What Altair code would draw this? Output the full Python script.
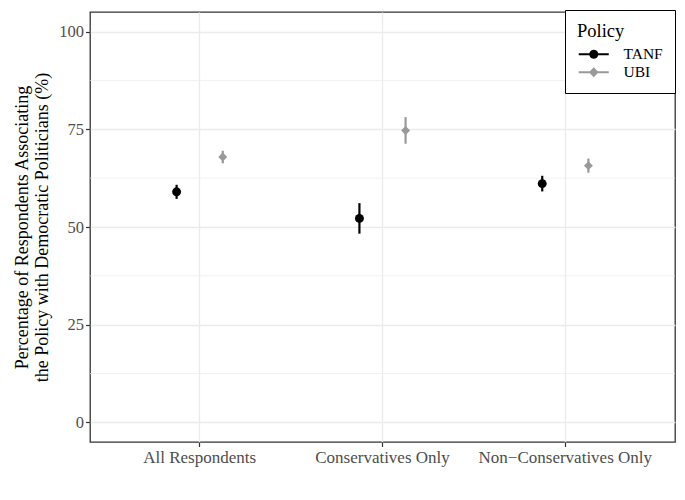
import math
import altair as alt
import pandas as pd

groups = ["All Respondents", "Conservatives Only", "Non\u2212Conservatives Only"]
policies = ["TANF", "UBI"]
tanf_est = [59.0, 52.2, 61.1]
tanf_lo = [57.2, 48.3, 59.1]
tanf_hi = [60.8, 56.1, 63.1]
ubi_est = [67.9, 74.7, 65.7]
ubi_lo = [66.3, 71.3, 63.9]
ubi_hi = [69.5, 78.1, 67.5]
major_ticks = [0, 25, 50, 75, 100]
minor_grid = [12.5, 37.5, 62.5, 87.5]
colors = ["#000000", "#999999"]
point_shapes = ["circle", "diamond"]

# legend glyphs (line + point), polygon-only custom symbol paths
CX = 1.29
BAR = "M-0.86,-0.15L3.43,-0.15L3.43,0.15L-0.86,0.15Z"


def poly(n, r, rot=0.0):
    pts = []
    for k in range(n):
        a = rot + 2 * math.pi * k / n
        pts.append(f"{CX + r * math.cos(a):.3f},{r * math.sin(a):.3f}")
    return "M" + "L".join(pts) + "Z"


legend_shapes = [BAR + poly(20, 0.64), BAR + poly(4, 0.7)]

rows = []
for i, g in enumerate(groups):
    rows.append({"group": g, "policy": "TANF", "est": tanf_est[i], "lo": tanf_lo[i], "hi": tanf_hi[i]})
    rows.append({"group": g, "policy": "UBI", "est": ubi_est[i], "lo": ubi_lo[i], "hi": ubi_hi[i]})
df = pd.DataFrame(rows)
minor_df = pd.DataFrame({"v": minor_grid})

FONT = "Liberation Serif"
yscale = alt.Scale(domain=[-5, 105], nice=False, zero=False)
yaxis = alt.Axis(values=major_ticks,
                 title=["Percentage of Respondents Associating",
                        "the Policy with Democratic Politicians (%)"],
                 grid=True, gridColor="#EBEBEB", gridWidth=1.3, domain=False,
                 tickColor="#333333", tickSize=4.5, tickWidth=1.2, labelColor="#4D4D4D",
                 labelFontSize=16.5, labelFont=FONT, titleFont=FONT, titleFontSize=18,
                 titleFontWeight="normal", titleColor="#000000", titlePadding=7,
                 labelPadding=2)

xenc = alt.X(
    "group:N", sort=groups,
    scale=alt.Scale(type="band", paddingInner=0, paddingOuter=0.1),
    axis=alt.Axis(title=None, labelAngle=0, grid=True, gridColor="#EBEBEB", gridWidth=1.3,
                  bandPosition=0.5, domain=False, tickColor="#333333", tickSize=4.5, tickWidth=1.2,
                  labelColor="#4D4D4D", labelFontSize=17, labelFont=FONT, labelPadding=3),
)
xoff = alt.XOffset("policy:N",
                   scale=alt.Scale(domain=policies, type="band", paddingInner=0, paddingOuter=0.98))

minor = alt.Chart(minor_df).mark_rule(color="#EBEBEB", strokeWidth=0.7).encode(
    y=alt.Y("v:Q", scale=yscale, axis=yaxis)
)

legend = alt.Legend(
    title="Policy", orient="none", legendX=475, legendY=-2,
    titleFont=FONT, titleFontSize=18.5, titleFontWeight="normal", titleColor="#000000",
    labelFont=FONT, labelFontSize=15.5, labelColor="#000000",
    strokeColor="#000000", fillColor="#FFFFFF", padding=12,
    symbolSize=196, symbolStrokeWidth=0,
    rowPadding=1, labelOffset=31, titlePadding=6,
)

# legend carrier: drawn first, tiny, hidden beneath the real points
carrier = alt.Chart(df).mark_point(filled=True, opacity=1, size=1, strokeWidth=0).encode(
    x=xenc, xOffset=xoff,
    y=alt.Y("est:Q", scale=yscale, axis=yaxis),
    color=alt.Color("policy:N", scale=alt.Scale(domain=policies, range=colors), legend=legend),
    shape=alt.Shape("policy:N", scale=alt.Scale(domain=policies, range=legend_shapes), legend=legend),
)

layers = [minor]
for pol, col in zip(policies, colors):
    layers.append(
        alt.Chart(df).transform_filter(alt.datum.policy == pol).mark_rule(
            strokeWidth=2.2, color=col).encode(
            x=xenc, xOffset=xoff,
            y=alt.Y("lo:Q", scale=yscale, axis=yaxis),
            y2="hi:Q",
        )
    )
layers.append(carrier)
for pol, col, shp in zip(policies, colors, point_shapes):
    layers.append(
        alt.Chart(df).transform_filter(alt.datum.policy == pol).mark_point(
            filled=True, size=80, opacity=1, shape=shp, color=col).encode(
            x=xenc, xOffset=xoff,
            y=alt.Y("est:Q", scale=yscale, axis=yaxis),
        )
    )

chart = alt.layer(*layers).properties(
    width=585, height=430,
    autosize=alt.AutoSizeParams(type="none"),
    padding={"left": 82, "top": 4, "right": 2, "bottom": 30},
).configure(font=FONT).configure_view(stroke="#333333", strokeWidth=1.3)

chart.save("out.html", embed_options={"renderer": "svg", "actions": False})
